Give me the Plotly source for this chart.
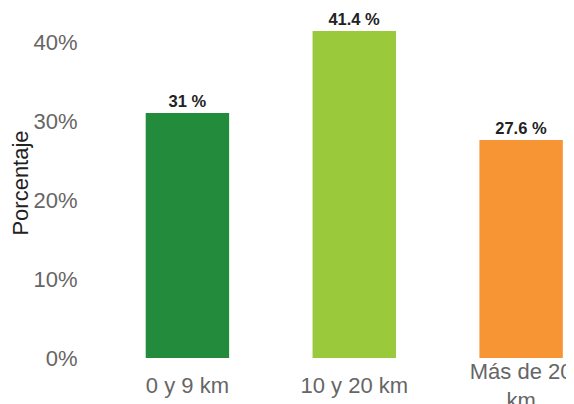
import plotly.graph_objects as go

categories = ["0 y 9 km", "10 y 20 km", "Más de 20 km"]
tick_labels = ["0 y 9 km", "10 y 20 km", "Más de 20<br>km"]
values = [31, 41.4, 27.6]
labels = ["31 %", "41.4 %", "27.6 %"]
colors = ["#228B3C", "#9ACA3C", "#F79433"]

fig = go.Figure(go.Bar(
    x=categories, y=[v / 100 for v in values],
    marker=dict(color=colors, line=dict(width=0)),
    width=0.5,
    text=labels, textposition="outside", cliponaxis=False,
    textfont=dict(family="Liberation Sans, Arial", size=16.5, color="#222222", weight="bold"),
))
# empty helper trace so the overlay axis (used for the wrapped third label) is drawn
fig.add_trace(go.Scatter(x=[], y=[], xaxis="x2", showlegend=False, hoverinfo="skip"))

XRANGE = [-0.5, 2.317]

# page body has an 8px margin, so the figure is sized to fill the rest of the window
fig.update_layout(
    width=566, height=396,
    margin=dict(l=95.5, r=0, t=0, b=46, autoexpand=False),
    paper_bgcolor="white", plot_bgcolor="white",
    font=dict(family="Liberation Sans, Arial", size=22, color="#666666"),
    showlegend=False,
    xaxis=dict(type="category", range=XRANGE, showgrid=False, zeroline=False, showline=False,
               automargin=False, tickmode="array",
               tickvals=categories[:2], ticktext=tick_labels[:2],
               ticks="outside", ticklen=8, tickcolor="rgba(0,0,0,0)",
               tickfont=dict(size=22, color="#666666")),
    xaxis2=dict(overlaying="x", anchor="y", side="bottom", type="linear", range=XRANGE,
                showgrid=False, zeroline=False, showline=False, automargin=False,
                tickmode="array", tickvals=[2], ticktext=[tick_labels[2]],
                ticks="", ticklabelstandoff=-2,
                tickfont=dict(size=22, color="#666666")),
    yaxis=dict(range=[0, 0.443], tickvals=[0, 0.1, 0.2, 0.3, 0.4], tickformat=".0%",
               showgrid=False, zeroline=False, showline=False, automargin=False,
               ticks="outside", ticklen=21, tickcolor="rgba(0,0,0,0)",
               tickfont=dict(size=22, color="#666666"),
               title=dict(text="Porcentaje", font=dict(size=22, color="#222222"), standoff=4)),
)

fig.write_html("out.html")
